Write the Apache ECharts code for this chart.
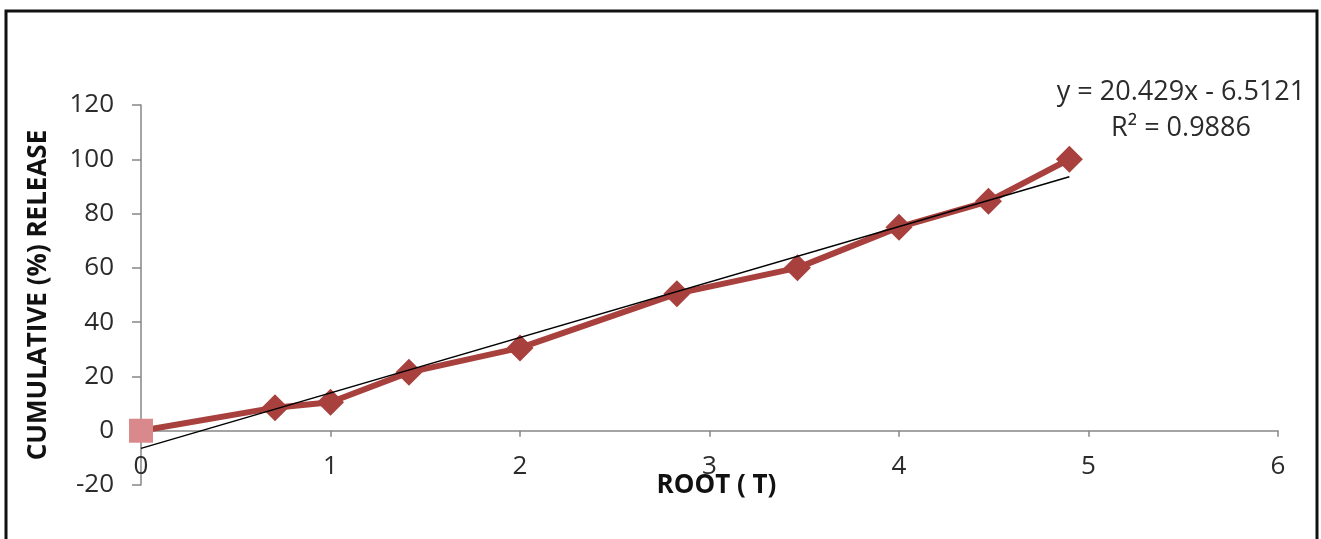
<!DOCTYPE html>
<html>
<head>
<meta charset="utf-8">
<script src="https://cdn.jsdelivr.net/npm/echarts@6/dist/echarts.min.js"></script>
<style>
html,body{margin:0;padding:0;background:#fff;}
#chart{width:1321px;height:539px;}
</style>
</head>
<body>
<div id="chart"></div>
<script>
// Data
const rootT = [0, 0.707, 1, 1.414, 2, 2.828, 3.464, 4, 4.472, 4.899];
const cumRelease = [0, 8.5, 10.5, 21.5, 30.5, 50.5, 60, 75, 84.5, 100];
const trendSlope = 20.429;
const trendIntercept = -6.5121;
const trendR2 = 0.9886;
const xTicks = [0, 1, 2, 3, 4, 5, 6];
const yTicks = [-20, 0, 20, 40, 60, 80, 100, 120];

const FONT = '"Open Sans", sans-serif';
const txt = '#2b2b2b';
const axisCol = '#868686';

const points = rootT.map((x, i) => {
  const p = {value: [x, cumRelease[i]]};
  if (i === 0) {
    p.symbol = 'rect';
    p.symbolSize = 24;
    p.itemStyle = {color: '#D9898B'};
  }
  return p;
});
const xEnd = rootT[rootT.length - 1];
const trendData = [[0, trendIntercept], [xEnd, trendSlope * xEnd + trendIntercept]];

const chart = echarts.init(document.getElementById('chart'), null, {renderer: 'canvas'});
chart.setOption({
  animation: false,
  backgroundColor: '#fff',
  grid: {left: 141, right: 43, top: 105, bottom: 54, containLabel: false, outerBoundsMode: 'none'},
  xAxis: {
    type: 'value', min: xTicks[0], max: xTicks[xTicks.length - 1], interval: 1,
    name: 'ROOT ( T)', nameLocation: 'middle', nameGap: -12, nameMoveOverlap: false,
    nameTextStyle: {fontFamily: FONT, fontSize: 26, fontWeight: 'bold', color: '#111', padding: [0, 0, 0, 14]},
    axisLine: {onZero: true, lineStyle: {color: axisCol, width: 1.5}},
    axisTick: {show: true, length: 6, lineStyle: {color: axisCol, width: 1.5}},
    axisLabel: {margin: -31, fontFamily: FONT, fontSize: 26, color: txt},
    splitLine: {show: false}
  },
  yAxis: {
    type: 'value', min: yTicks[0], max: yTicks[yTicks.length - 1], interval: 20,
    name: 'CUMULATIVE (%) RELEASE', nameLocation: 'middle', nameGap: 89, nameRotate: 90,
    nameTextStyle: {fontFamily: FONT, fontSize: 26, fontWeight: 'bold', color: '#111'},
    axisLine: {show: true, lineStyle: {color: axisCol, width: 1.5}},
    axisTick: {show: true, length: 9, lineStyle: {color: axisCol, width: 1.5}},
    axisLabel: {margin: 27, fontFamily: FONT, fontSize: 26, color: txt},
    splitLine: {show: false}
  },
  series: [
    {
      type: 'line', data: points, symbol: 'diamond', symbolSize: 27,
      lineStyle: {color: '#A8403D', width: 6},
      itemStyle: {color: '#A8403D'}, z: 2
    },
    {
      type: 'line', data: trendData, symbol: 'none',
      lineStyle: {color: '#000', width: 1.5}, z: 3
    }
  ],
  graphic: [
    {type: 'polyline', shape: {points: [[6, 539], [6, 11], [1317, 11], [1317, 539]]},
      style: {stroke: '#111', lineWidth: 3, fill: null}},
    {type: 'text', x: 1181, y: 92, style: {text: 'y = ' + trendSlope + 'x - ' + Math.abs(trendIntercept), font: '27px ' + FONT, fill: txt, textAlign: 'center', textVerticalAlign: 'middle'}},
    {type: 'text', x: 1181, y: 128, style: {text: 'R² = ' + trendR2, font: '27px ' + FONT, fill: txt, textAlign: 'center', textVerticalAlign: 'middle'}}
  ]
});
</script>
</body>
</html>
